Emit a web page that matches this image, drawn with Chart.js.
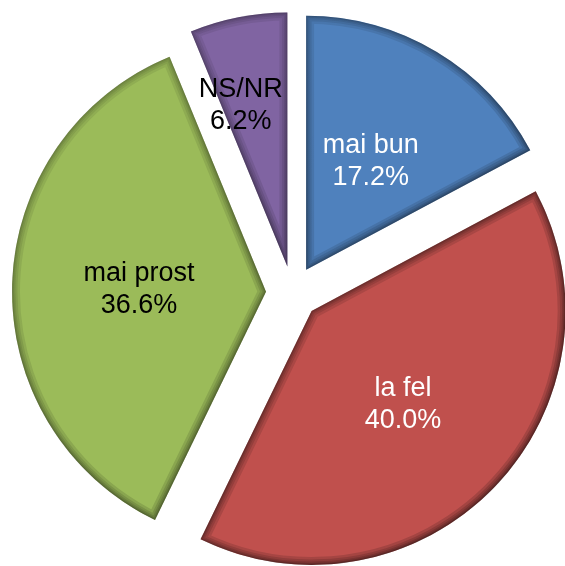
<!DOCTYPE html>
<html>
<head>
<meta charset="utf-8">
<script src="https://cdn.jsdelivr.net/npm/chart.js@4/dist/chart.umd.min.js"></script>
<style>
  html, body { margin: 0; padding: 0; background: #ffffff; }
  #wrap { width: 565px; height: 566px; }
</style>
</head>
<body>
<div id="wrap"><canvas id="c" width="565" height="566"></canvas></div>
<script>
// ---- data ----
const categories = ["mai bun", "la fel", "mai prost", "NS/NR"];
const values = [17.2, 40.0, 36.6, 6.2];
const valueLabels = ["17.2%", "40.0%", "36.6%", "6.2%"];

// ---- styles ----
const fillColors = ["#4F81BD", "#C0504D", "#9BBB59", "#8064A2"];
const labelColors = ["#ffffff", "#ffffff", "#000000", "#000000"];
const labelFrac = [0.495, 0.516, 0.50, 0.66];
const labelAngleShift = [0, 1.8, -1, -5]; // degrees
const explode = 26.5;

function explodeShift(arc) {
  const mid = (arc.startAngle + arc.endAngle) / 2;
  return { dx: Math.cos(mid) * explode, dy: Math.sin(mid) * explode, mid };
}

const explodedPie = {
  id: 'explodedPie',
  beforeDatasetsDraw(chart) {
    const ctx = chart.ctx;
    const meta = chart.getDatasetMeta(0);
    meta.data.forEach((arc) => {
      const s = explodeShift(arc);
      ctx.save();
      ctx.translate(s.dx, s.dy);
      arc.draw(ctx);
      // bevel: darken edges inside the slice, stronger towards bottom-right
      ctx.beginPath();
      ctx.moveTo(arc.x, arc.y);
      ctx.arc(arc.x, arc.y, arc.outerRadius, arc.startAngle, arc.endAngle);
      ctx.closePath();
      ctx.clip();
      const R = arc.outerRadius;
      const g = ctx.createLinearGradient(arc.x - R, arc.y - R, arc.x + R, arc.y + R);
      g.addColorStop(0, 'rgba(0,0,0,0.06)');
      g.addColorStop(0.5, 'rgba(0,0,0,0.11)');
      g.addColorStop(1, 'rgba(0,0,0,0.17)');
      const widths = [16, 11, 7, 4, 2];
      widths.forEach((w) => {
        ctx.lineWidth = w;
        ctx.strokeStyle = g;
        ctx.lineJoin = 'miter';
        ctx.stroke();
      });
      ctx.restore();
    });
    return false;
  },
  afterDraw(chart) {
    const ctx = chart.ctx;
    const meta = chart.getDatasetMeta(0);
    ctx.save();
    ctx.font = '27px "Liberation Sans", Arial, sans-serif';
    ctx.textAlign = 'center';
    ctx.textBaseline = 'middle';
    meta.data.forEach((arc, i) => {
      const s = explodeShift(arc);
      const ang = s.mid + labelAngleShift[i] * Math.PI / 180;
      const r = arc.outerRadius * labelFrac[i];
      const cx = arc.x + s.dx + Math.cos(ang) * r;
      const cy = arc.y + s.dy + Math.sin(ang) * r;
      ctx.fillStyle = labelColors[i];
      ctx.fillText(categories[i], cx, cy - 16);
      ctx.fillText(valueLabels[i], cx, cy + 16);
    });
    ctx.restore();
  }
};

new Chart(document.getElementById('c'), {
  type: 'pie',
  data: {
    labels: categories,
    datasets: [{
      data: values,
      backgroundColor: fillColors,
      borderWidth: 0,
      offset: 0
    }]
  },
  options: {
    responsive: false,
    animation: false,
    events: [],
    radius: 254,
    layout: { padding: { left: 20, right: 0, top: 19, bottom: 0 } },
    plugins: {
      legend: { display: false },
      tooltip: { enabled: false }
    }
  },
  plugins: [explodedPie]
});
</script>
</body>
</html>
